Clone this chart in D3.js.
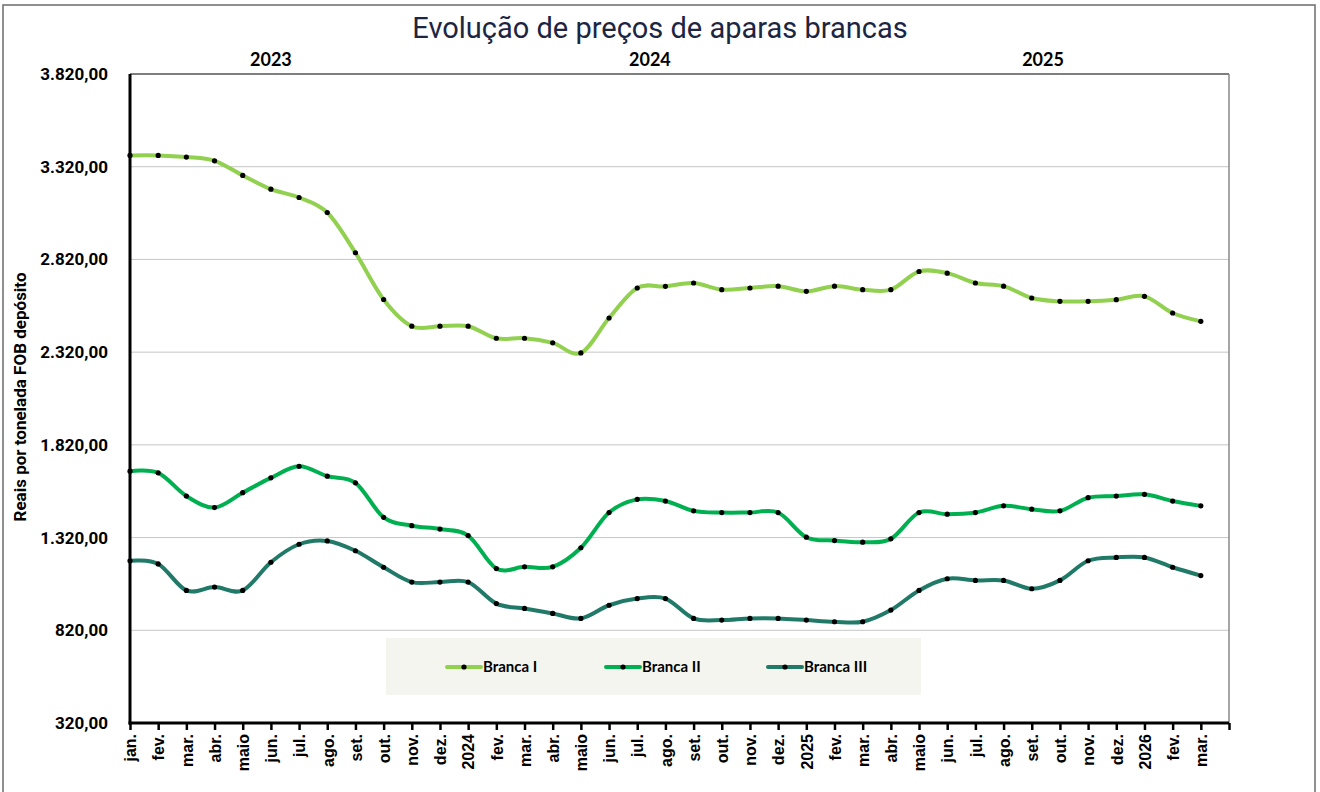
<!DOCTYPE html>
<html>
<head>
<meta charset="utf-8">
<script src="https://cdn.jsdelivr.net/npm/d3@7"></script>
<style>
  body { margin: 0; background: #fff; }
  .ylab { font-family: Roboto, "Liberation Sans", sans-serif; font-weight: bold; font-size: 17px; }
  .xlab { font-family: "Liberation Sans", Arial, sans-serif; font-weight: bold; font-size: 16px; }
</style>
</head>
<body>
<script>
// Evolução de preços de aparas brancas - monthly prices, jan/2023 to mar/2026

var months = ["jan.", "fev.", "mar.", "abr.", "maio", "jun.", "jul.", "ago.", "set.", "out.", "nov.", "dez.",
  "2024", "fev.", "mar.", "abr.", "maio", "jun.", "jul.", "ago.", "set.", "out.", "nov.", "dez.",
  "2025", "fev.", "mar.", "abr.", "maio", "jun.", "jul.", "ago.", "set.", "out.", "nov.", "dez.",
  "2026", "fev.", "mar."];

var brancaI = [3381, 3381, 3372, 3352, 3273, 3199, 3154, 3073, 2856, 2604, 2460, 2460,
  2460, 2395, 2395, 2370, 2316, 2504, 2666, 2675, 2693, 2657, 2666, 2676,
  2648, 2676, 2657, 2657, 2755, 2746, 2693, 2676, 2612, 2594, 2594, 2603,
  2621, 2531, 2486];

var brancaII = [1678, 1669, 1544, 1482, 1562, 1642, 1704, 1651, 1615, 1429, 1384, 1366,
  1331, 1153, 1162, 1162, 1265, 1455, 1526, 1517, 1464, 1455, 1455, 1455,
  1322, 1304, 1295, 1313, 1455, 1446, 1455, 1491, 1473, 1464, 1535, 1544,
  1553, 1517, 1491];

var brancaIII = [1195, 1178, 1035, 1053, 1035, 1187, 1284, 1302, 1249, 1160, 1080, 1080,
  1080, 964, 938, 911, 884, 955, 991, 991, 884, 875, 884, 884,
  875, 866, 866, 929, 1035, 1098, 1089, 1089, 1044, 1089, 1195, 1213,
  1213, 1160, 1115];

var seriesNames = ["Branca I", "Branca II", "Branca III"];
var seriesColors = ["#92D050", "#00B050", "#217A68"];
var yTicks = [320, 820, 1320, 1820, 2320, 2820, 3320, 3820];
var years = ["2023", "2024", "2025"];

var w = 1320;
var h = 792;
// plot edges (note: "top" is taken by window.top, so use other names)
var pLeft = 130, pRight = 1229, pTop = 74, pBottom = 723;

var svg = d3.select("body")
  .append("svg")
  .attr("width", w)
  .attr("height", h);

// outer frame
svg.append("rect")
  .attr("x", 3).attr("y", 5)
  .attr("width", 1312).attr("height", 790)
  .attr("fill", "none")
  .attr("stroke", "#6b6b6b")
  .attr("stroke-width", 1.5);

// one extra slot after the last month, like the original
var scaleX = d3.scaleLinear()
  .domain([0, months.length])
  .range([pLeft, pRight]);

var scaleY = d3.scaleLinear()
  .domain([320, 3820])
  .range([pBottom, pTop]);

// gridlines
svg.selectAll("line.grid")
  .data(yTicks.slice(1, -1))
  .enter()
  .append("line")
  .attr("class", "grid")
  .attr("x1", pLeft).attr("x2", pRight)
  .attr("y1", function(d) { return scaleY(d); })
  .attr("y2", function(d) { return scaleY(d); })
  .attr("stroke", "#c6c6c6")
  .attr("stroke-width", 1);

// top and right borders of plot
svg.append("line")
  .attr("x1", pLeft).attr("x2", pRight)
  .attr("y1", pTop).attr("y2", pTop)
  .attr("stroke", "#555").attr("stroke-width", 1.5);
svg.append("line")
  .attr("x1", pRight).attr("x2", pRight)
  .attr("y1", pTop).attr("y2", pBottom)
  .attr("stroke", "#888").attr("stroke-width", 1.5);

// y axis labels, brazilian number format
var fmt = function(v) {
  var s = d3.format(",.2f")(v);
  return s.replace(/,/g, "#").replace(".", ",").replace(/#/g, ".");
};
var yAxis = d3.axisLeft(scaleY)
  .tickValues(yTicks)
  .tickSize(0)
  .tickPadding(22)
  .tickFormat(fmt);
var gy = svg.append("g")
  .attr("class", "ylab")
  .attr("transform", "translate(" + pLeft + ",0)")
  .call(yAxis);
gy.select(".domain").remove();
gy.selectAll("text").attr("fill", "#000");

svg.append("line")
  .attr("x1", pLeft).attr("x2", pLeft)
  .attr("y1", pTop).attr("y2", pBottom + 1.5)
  .attr("stroke", "#000").attr("stroke-width", 3);

// x axis with rotated month labels
var xAxis = d3.axisBottom(scaleX)
  .tickValues(d3.range(months.length + 1))
  .tickSize(7)
  .tickFormat(function(i) { return months[i] || ""; });
var gx = svg.append("g")
  .attr("class", "xlab")
  .attr("transform", "translate(0," + pBottom + ")")
  .call(xAxis);
gx.select(".domain").attr("stroke", "#000").attr("stroke-width", 3).attr("d", "M" + (pLeft - 1.5) + ",0H" + pRight);
gx.selectAll(".tick line").attr("stroke", "#000").attr("stroke-width", 2.5);
gx.selectAll("text")
  .attr("fill", "#000")
  .attr("transform", "rotate(-90)")
  .attr("text-anchor", "end")
  .attr("x", -11)
  .attr("y", 0)
  .attr("dy", "0.36em");

// y axis title
svg.append("text")
  .attr("transform", "translate(26,397) rotate(-90)")
  .attr("text-anchor", "middle")
  .attr("font-family", "Roboto, sans-serif")
  .attr("font-weight", "bold")
  .attr("font-size", 17)
  .text("Reais por tonelada FOB depósito");

// title
svg.append("text")
  .attr("x", 660).attr("y", 38)
  .attr("text-anchor", "middle")
  .attr("font-family", "Roboto, sans-serif")
  .attr("font-size", 29)
  .attr("fill", "#1c2542")
  .text("Evolução de preços de aparas brancas");

// year labels over the plot
var yearPos = [5, 18.45, 32.4];
svg.selectAll("text.year")
  .data(years)
  .enter()
  .append("text")
  .attr("class", "year")
  .attr("x", function(d, i) { return scaleX(yearPos[i]); })
  .attr("y", 66)
  .attr("text-anchor", "middle")
  .attr("font-family", "Lato, sans-serif")
  .attr("font-weight", "bold")
  .attr("font-size", 18)
  .text(function(d) { return d; });

// legend box
svg.append("rect")
  .attr("x", 386).attr("y", 638)
  .attr("width", 535).attr("height", 57)
  .attr("fill", "#f4f5ef");

// lines
var allSeries = [brancaI, brancaII, brancaIII];
var line = d3.line()
  .x(function(d, i) { return scaleX(i); })
  .y(function(d) { return scaleY(d); })
  .curve(d3.curveCatmullRom.alpha(0));

allSeries.forEach(function(vals, k) {
  svg.append("path")
    .datum(vals)
    .attr("d", line)
    .attr("fill", "none")
    .attr("stroke", seriesColors[k])
    .attr("stroke-width", 4)
    .attr("stroke-linecap", "round");
  svg.selectAll("circle.s" + k)
    .data(vals)
    .enter()
    .append("circle")
    .attr("class", "s" + k)
    .attr("cx", function(d, i) { return scaleX(i); })
    .attr("cy", function(d) { return scaleY(d); })
    .attr("r", 2.6)
    .attr("fill", "#000");
});

// legend entries
var legX = [447, 606, 768];
seriesNames.forEach(function(name, k) {
  var g = svg.append("g").attr("transform", "translate(" + legX[k] + ",667)");
  g.append("line")
    .attr("x1", 0).attr("x2", 34)
    .attr("stroke", seriesColors[k])
    .attr("stroke-width", 4)
    .attr("stroke-linecap", "round");
  g.append("circle").attr("cx", 17).attr("r", 2.6).attr("fill", "#000");
  g.append("text")
    .attr("x", 36).attr("dy", "0.35em")
    .attr("font-family", "Lato, sans-serif")
    .attr("font-weight", "bold")
    .attr("font-size", 15)
    .text(name);
});
</script>
</body>
</html>
